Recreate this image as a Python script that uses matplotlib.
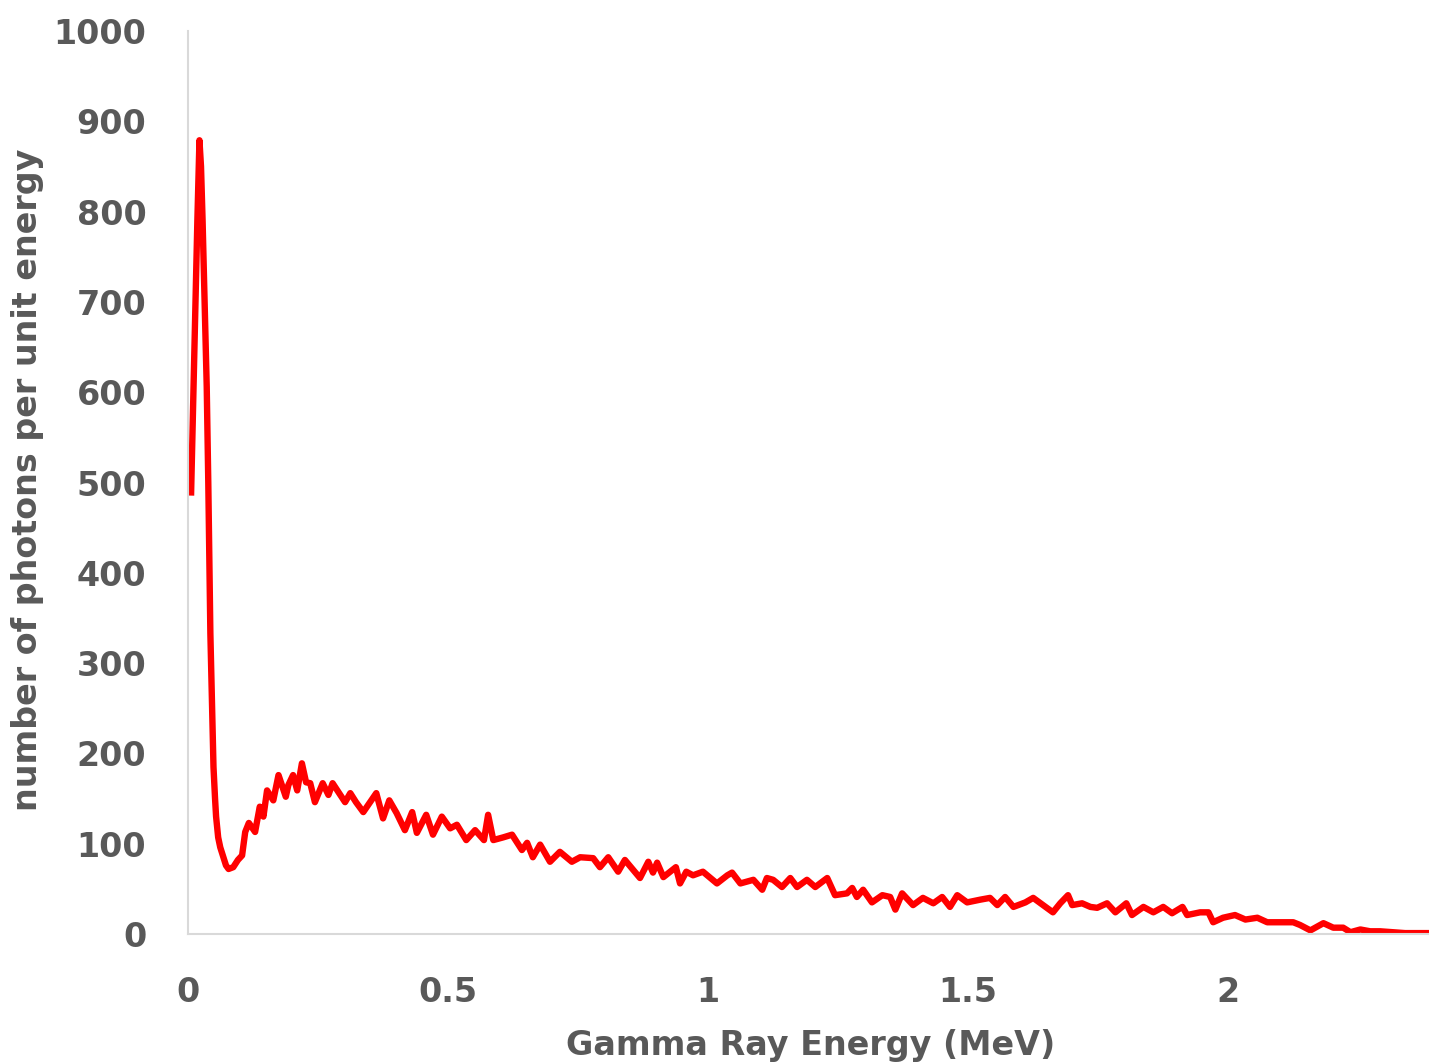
import matplotlib
matplotlib.use("Agg")
import matplotlib.pyplot as plt

energy_mev = [
    0.006, 0.010, 0.014, 0.018, 0.022, 0.025, 0.028, 0.032, 0.036, 0.039,
    0.041, 0.043, 0.046, 0.049, 0.052, 0.054, 0.058, 0.062, 0.068, 0.073,
    0.078, 0.087, 0.096, 0.104, 0.110, 0.117, 0.129, 0.138, 0.145, 0.152,
    0.164, 0.174, 0.188, 0.193, 0.202, 0.210, 0.219, 0.227, 0.235, 0.244,
    0.259, 0.270, 0.278, 0.302, 0.312, 0.323, 0.337, 0.349, 0.362, 0.375,
    0.387, 0.401, 0.417, 0.431, 0.440, 0.458, 0.471, 0.488, 0.504, 0.517,
    0.535, 0.552, 0.569, 0.577, 0.587, 0.606, 0.623, 0.642, 0.652, 0.663,
    0.677, 0.696, 0.715, 0.738, 0.754, 0.779, 0.792, 0.808, 0.827, 0.840,
    0.869, 0.885, 0.894, 0.902, 0.914, 0.938, 0.946, 0.958, 0.971, 0.990,
    1.017, 1.037, 1.046, 1.062, 1.087, 1.104, 1.113, 1.125, 1.142, 1.158,
    1.171, 1.190, 1.206, 1.229, 1.244, 1.267, 1.277, 1.286, 1.298, 1.315,
    1.335, 1.350, 1.360, 1.373, 1.394, 1.413, 1.433, 1.450, 1.465, 1.479,
    1.498, 1.523, 1.542, 1.556, 1.571, 1.587, 1.610, 1.625, 1.644, 1.663,
    1.677, 1.692, 1.700, 1.719, 1.735, 1.748, 1.767, 1.783, 1.804, 1.815,
    1.837, 1.856, 1.875, 1.892, 1.912, 1.921, 1.946, 1.962, 1.971, 1.990,
    2.013, 2.033, 2.056, 2.075, 2.100, 2.125, 2.138, 2.158, 2.183, 2.202,
    2.221, 2.235, 2.254, 2.273, 2.292, 2.317, 2.340, 2.370, 2.400,
]
photon_counts = [
    489, 590, 690, 790, 879, 850, 791, 700, 606, 500,
    420, 333, 259, 185, 150, 130, 107, 96, 85, 76,
    72, 74, 82, 87, 113, 123, 113, 141, 130, 159,
    148, 176, 152, 165, 176, 159, 189, 168, 167, 146,
    167, 154, 167, 146, 156, 146, 135, 145, 156, 128,
    148, 134, 115, 135, 112, 132, 110, 130, 117, 121,
    104, 115, 104, 132, 104, 107, 110, 93, 101, 85,
    99, 80, 91, 80, 85, 84, 74, 85, 69, 82,
    62, 80, 68, 79, 63, 74, 56, 69, 65, 69,
    56, 65, 68, 56, 60, 49, 62, 60, 52, 62,
    52, 60, 52, 62, 43, 45, 51, 41, 49, 35,
    43, 41, 27, 45, 32, 40, 34, 41, 30, 43,
    35, 38, 40, 32, 41, 30, 35, 40, 32, 24,
    34, 43, 32, 34, 30, 29, 34, 24, 34, 21,
    30, 24, 30, 23, 30, 21, 24, 24, 13, 18,
    21, 16, 18, 13, 13, 13, 10, 4, 12, 7,
    7, 2, 5, 3, 3, 2, 1, 1, 1,
]

y_ticks = [0, 100, 200, 300, 400, 500, 600, 700, 800, 900, 1000]
x_ticks = [0, 0.5, 1, 1.5, 2]
x_tick_labels = ["0", "0.5", "1", "1.5", "2"]

text_color = "#595959"
plt.rcParams['font.family'] = ['DejaVu Sans']

fig = plt.figure(figsize=(14.29, 10.64), dpi=100)
ax = fig.add_axes([188/1429, 1 - 934/1064, 1 - 188/1429, (934 - 31)/1064])
ax.plot(energy_mev, photon_counts, color="#FF0000", lw=4.6, solid_joinstyle="round")
ax.set_xlim(0, 2.386)
ax.set_ylim(0, 1000)
ax.set_yticks(y_ticks)
ax.set_xticks(x_ticks)
ax.set_xticklabels(x_tick_labels)
for s in ["top", "right"]:
    ax.spines[s].set_visible(False)
for s in ["left", "bottom"]:
    ax.spines[s].set_color("#D9D9D9")
    ax.spines[s].set_linewidth(1.5)
ax.tick_params(length=0, labelsize=24, labelcolor=text_color, pad=30)
for lab in ax.get_xticklabels() + ax.get_yticklabels():
    lab.set_fontweight("bold")
ax.set_xlabel("Gamma Ray Energy (MeV)", fontsize=24, fontweight="bold", color=text_color)
ax.xaxis.set_label_coords(0.502, -0.123)
ax.xaxis.label.set_va("center")
ax.set_ylabel("number of photons per unit energy", fontsize=24, fontweight="bold", color=text_color)
ax.yaxis.set_label_coords(-0.129, 0.503)
ax.yaxis.label.set_va("center")
fig.savefig("out.png", dpi=100)
